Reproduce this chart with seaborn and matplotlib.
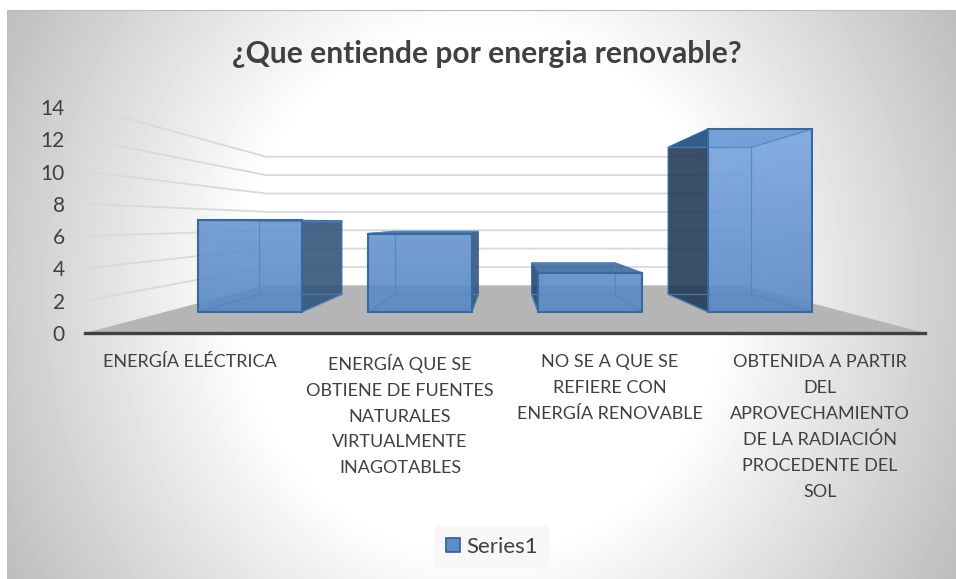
# Energia renovable - 3D style column chart, perspective worked out from the bars seaborn draws
import numpy as np
import pandas as pd
import matplotlib
matplotlib.use("Agg")
import matplotlib.pyplot as plt
from matplotlib.patches import Polygon, Rectangle
from matplotlib.colors import LinearSegmentedColormap
import seaborn as sns

categories = [
    "ENERGÍA ELÉCTRICA",
    "ENERGÍA QUE SE\nOBTIENE DE FUENTES\nNATURALES\nVIRTUALMENTE\nINAGOTABLES",
    "NO SE A QUE SE\nREFIERE CON\nENERGÍA RENOVABLE",
    "OBTENIDA A PARTIR\nDEL\nAPROVECHAMIENTO\nDE LA RADIACIÓN\nPROCEDENTE DEL\nSOL",
]
values = [7, 6, 3, 14]
y_ticks = [0, 2, 4, 6, 8, 10, 12, 14]
series_name = "Series1"
title = "¿Que entiende por energia renovable?"

W, H = 956, 579
TEXT = "#404040"

# perspective: eye point in data units, and how much things shrink with depth
EYE_X, EYE_Y = 1.5, 6.85
BAR_FRONT, BAR_BACK, WALL = 0.81, 0.65, 0.569
side_colors = ["#2f5276", "#2f5276", "#22426a", "#1f3550"]


def project(x, v, s):
    return (EYE_X + s * (x - EYE_X), EYE_Y + s * (v - EYE_Y))


def box(sa, sb, xa, xb, va, vb):
    return [project(xa, va, sa), project(xb, vb, sa), project(xb, vb, sb), project(xa, va, sb)]


sns.set_theme(style="white")
plt.rcParams["font.family"] = ["Lato", "DejaVu Sans"]

fig = plt.figure(figsize=(W / 100, H / 100), dpi=100, facecolor="white")

# chart area background, radial grey
bg = fig.add_axes([0, 0, 1, 1], zorder=0)
yy, xx = np.mgrid[0:H, 0:W]
t = np.sqrt(((xx - 480) / 480) ** 2 + ((yy - 290) / 520) ** 2)
shade = 255 - 105 * np.clip(t - 0.5, 0, 1)
shade[(xx < 7) | (yy < 10)] = 255
bg.imshow(shade, cmap="gray", vmin=0, vmax=255, aspect="auto", extent=[0, W, H, 0])
bg.add_patch(Rectangle((7, 10), 960, 580, fill=False, ec="#bdbdbd", lw=0.8))
bg.set_xlim(0, W)
bg.set_ylim(H, 0)
bg.axis("off")

ax = fig.add_axes([85 / W, 1 - 333 / H, 840 / W, 226 / H], zorder=1)
ax.patch.set_alpha(0)

df = pd.DataFrame({"categoria": categories, "valor": values})
sns.barplot(data=df, x="categoria", y="valor", width=0.61, color="#5f8dc8",
            saturation=1, label=series_name, ax=ax, zorder=5)
ax.set_xlim(-0.5, 3.5)
ax.set_ylim(0, 14)

# floor
floor = [project(-0.5, 0, 1), project(3.5, 0, 1), project(3.5, 0, WALL), project(-0.5, 0, WALL)]
ax.add_patch(Polygon(floor, closed=True, fc="#b5b5b5", ec="none", zorder=1))

# gridlines, along the left wall then the back wall
for v in y_ticks[1:]:
    pts = [project(-0.5, v, 1), project(-0.5, v, WALL), project(3.5, v, WALL)]
    ax.plot(*zip(*pts), color="#d9d9d9", lw=1.3, zorder=2, solid_joinstyle="miter")

leg = ax.legend(loc="center", bbox_to_anchor=(492 / W, 1 - 547 / H), bbox_transform=fig.transFigure,
                frameon=True, fontsize=16, labelcolor=TEXT, handlelength=0.63, handleheight=0.63,
                handletextpad=0.25, borderpad=0.5, borderaxespad=0, fancybox=False)
leg.get_frame().set(facecolor="#f7f7f7", edgecolor="none", alpha=1)
for h in leg.get_patches():
    h.set_edgecolor("#2f5f97")
    h.set_linewidth(1.2)

front_cmap = LinearSegmentedColormap.from_list("front", ["#5585c2", "#7fabe4"])
EDGE = "#37689f"
INNER = "#4f83c4"

for i, rect in enumerate(ax.containers[0]):
    x0, x1 = rect.get_x(), rect.get_x() + rect.get_width()
    v = rect.get_height()

    # inside faces, seen through the front
    back = [project(x0, 0, BAR_BACK), project(x1, 0, BAR_BACK), project(x1, v, BAR_BACK), project(x0, v, BAR_BACK)]
    ax.add_patch(Polygon(back, closed=True, fc="#5f8dc8", alpha=0.25, ec="none", zorder=3))
    ax.add_patch(Polygon(box(BAR_FRONT, BAR_BACK, x0, x1, 0, 0), closed=True, fc="#3f72b4",
                         alpha=0.2, ec="none", zorder=3))

    # the side towards the eye is the dark one, the other shows through
    dark_x, inner_x = (x1, x0) if (x0 + x1) / 2 < EYE_X else (x0, x1)
    ax.add_patch(Polygon(box(BAR_FRONT, BAR_BACK, inner_x, inner_x, 0, v), closed=True,
                         fc="#3f72b4", alpha=0.15, ec="none", zorder=3))

    # inner edges, only the ones behind the front face
    for seg in ([project(inner_x, 0, BAR_FRONT), project(inner_x, 0, BAR_BACK)],
                [project(inner_x, v, BAR_FRONT), project(inner_x, v, BAR_BACK)],
                [project(inner_x, 0, BAR_BACK), project(inner_x, v, BAR_BACK)],
                [project(x0, 0, BAR_BACK), project(x1, 0, BAR_BACK)],
                [project(x0, v, BAR_BACK), project(x1, v, BAR_BACK)],
                [project(dark_x, 0, BAR_FRONT), project(dark_x, 0, BAR_BACK)]):
        ax.plot(*zip(*seg), color=INNER, lw=0.9, alpha=0.8, zorder=7)

    ax.add_patch(Polygon(box(BAR_FRONT, BAR_BACK, dark_x, dark_x, 0, v), closed=True,
                         fc=side_colors[i], alpha=0.85, ec=EDGE, lw=0.9, zorder=4))
    top = box(BAR_FRONT, BAR_BACK, x0, x1, v, v)
    ax.add_patch(Polygon(top, closed=True, fc="#2f5f97", alpha=0.8, ec=EDGE, lw=0.9, zorder=4))

    # front face: move seaborn's bar to its place in depth, gradient clipped to it
    (fx0, fy0), (fx1, fy1) = project(x0, 0, BAR_FRONT), project(x1, v, BAR_FRONT)
    rect.set_bounds(fx0, fy0, fx1 - fx0, fy1 - fy0)
    rect.set_facecolor("none")
    rect.set_edgecolor(EDGE)
    rect.set_linewidth(1.5)
    rect.set_zorder(8)
    grad = np.linspace(1, 0, 64)[:, None]
    im = ax.imshow(grad, cmap=front_cmap, vmin=0, vmax=1, extent=[fx0, fx1, 0, 14], aspect="auto",
                   alpha=0.88, zorder=6)
    im.set_clip_path(rect)

ax.set_xlim(-0.5, 3.5)
ax.set_ylim(0, 14)
ax.set_xlabel("")
ax.set_ylabel("")
ax.set_yticks(y_ticks)
ax.tick_params(axis="y", length=0, pad=14.5, labelsize=15, labelcolor=TEXT)
ax.tick_params(axis="x", length=0, pad=15, labelsize=13, labelcolor=TEXT)
for lab in ax.get_xticklabels():
    lab.set_linespacing(1.76)
    lab.set_va("top")
sns.despine(ax=ax, left=True)
ax.spines["bottom"].set_color("#404040")
ax.spines["bottom"].set_linewidth(2.4)
ax.spines["bottom"].set_zorder(9)

fig.text(487 / W, 1 - 54 / H, title, ha="center", va="center", fontsize=21.6, fontweight="bold", color=TEXT)

fig.savefig("out.png", dpi=100)
